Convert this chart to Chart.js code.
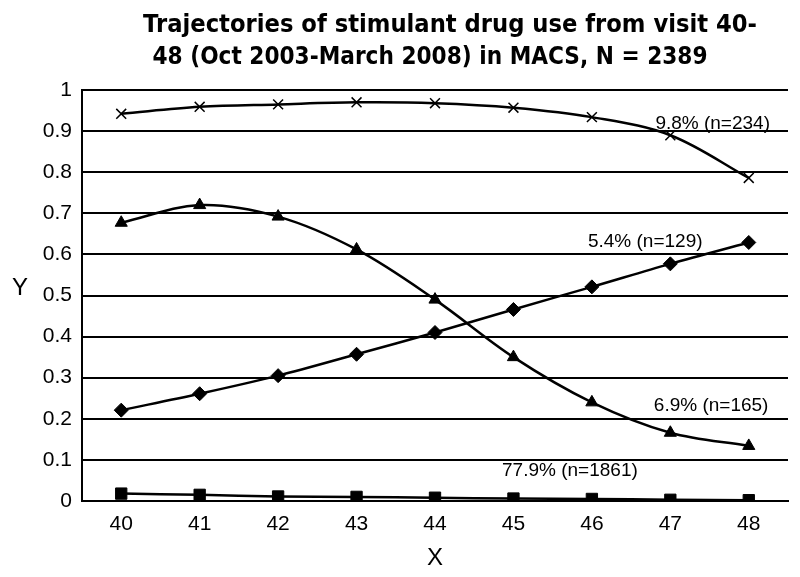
<!DOCTYPE html>
<html>
<head>
<meta charset="utf-8">
<title>Trajectories of stimulant drug use</title>
<script src="https://cdn.jsdelivr.net/npm/chart.js@4.4.1/dist/chart.umd.min.js"></script>
<style>
    html, body { margin: 0; padding: 0; background: #fff; }
    #wrap { width: 800px; height: 577px; }
</style>
</head>
<body>
<div id="wrap"><canvas id="trajectory-chart" width="800" height="577"></canvas></div>
<script>
// visits on the x axis
const visits = ['40', '41', '42', '43', '44', '45', '46', '47', '48'];
const yTickLabels = ['0', '0.1', '0.2', '0.3', '0.4', '0.5', '0.6', '0.7', '0.8', '0.9', '1'];

// trajectory groups
const highUse = [0.942, 0.959, 0.965, 0.970, 0.968, 0.957, 0.934, 0.890, 0.786];      // 9.8%
const decreasing = [0.677, 0.720, 0.692, 0.612, 0.490, 0.350, 0.240, 0.166, 0.134];  // 6.9%
const increasing = [0.221, 0.261, 0.305, 0.357, 0.410, 0.466, 0.521, 0.577, 0.629];  // 5.4%
const nonUse = [0.018, 0.015, 0.011, 0.010, 0.008, 0.006, 0.005, 0.003, 0.002];       // 77.9%

// group labels: [text, x position (visit index), y value]
const groupLabels = [
    ['9.8% (n=234)', 7.54, 0.917],
    ['5.4% (n=129)', 6.68, 0.63],
    ['6.9% (n=165)', 7.52, 0.231],
    ['77.9% (n=1861)', 5.72, 0.073]
];
const titleLines = ['Trajectories of stimulant drug use from visit 40-', '48 (Oct 2003-March 2008) in MACS, N = 2389'];

const fontFamily = '"Liberation Sans", Arial, sans-serif';

function makeSeries(label, data, style, radius) {
    return {
        label: label,
        data: data,
        borderColor: '#000',
        backgroundColor: '#000',
        borderWidth: 2.5,
        pointStyle: style,
        pointRadius: radius,
        pointBorderWidth: style === 'crossRot' ? 1.5 : 1,
        tension: 0.35,
        fill: false
    };
}

// draw a line of text stretched to a given width (the original title font is very wide)
function fillStretched(ctx, text, cx, cy, width) {
    const natural = ctx.measureText(text).width;
    ctx.save();
    ctx.translate(cx, cy);
    ctx.scale(width / natural, 1);
    ctx.fillText(text, 0, 0);
    ctx.restore();
}

const textPlugin = {
    id: 'textPlugin',
    afterDraw: function(chart) {
        const ctx = chart.ctx;
        const xs = chart.scales.x;
        const ys = chart.scales.y;
        ctx.save();
        ctx.fillStyle = '#000';
        ctx.textBaseline = 'middle';
        ctx.textAlign = 'center';

        ctx.font = 'bold 24px "DejaVu Sans", sans-serif';
        fillStretched(ctx, titleLines[0], 450, 26, 614);
        fillStretched(ctx, titleLines[1], 430, 58, 555);

        ctx.font = '24px ' + fontFamily;
        ctx.fillText('Y', 20, 288);

        ctx.font = '19px ' + fontFamily;
        groupLabels.forEach(function(g) {
            ctx.fillText(g[0], xs.getPixelForValue(g[1]), ys.getPixelForValue(g[2]));
        });
        ctx.restore();
    }
};

const ctx = document.getElementById('trajectory-chart').getContext('2d');
const chart = new Chart(ctx, {
    type: 'line',
    data: {
        labels: visits,
        datasets: [
            makeSeries('9.8% (n=234)', highUse, 'crossRot', 7),
            makeSeries('6.9% (n=165)', decreasing, 'triangle', 7),
            makeSeries('5.4% (n=129)', increasing, 'rectRot', 7),
            makeSeries('77.9% (n=1861)', nonUse, 'rect', 8)
        ]
    },
    options: {
        responsive: false,
        animation: false,
        layout: { padding: { top: 90, right: 12, left: 0, bottom: 0 } },
        plugins: {
            legend: { display: false },
            tooltip: { enabled: false }
        },
        scales: {
            x: {
                offset: true,
                grid: { display: false, drawTicks: false },
                border: { color: '#000', width: 2 },
                ticks: {
                    color: '#000',
                    padding: 11,
                    font: { family: fontFamily, size: 21 }
                },
                title: {
                    display: true,
                    text: 'X',
                    color: '#000',
                    padding: { top: 6 },
                    font: { family: fontFamily, size: 24 }
                },
                afterFit: function(scale) { scale.height = 76; }
            },
            y: {
                min: 0,
                max: 1,
                grid: { color: '#000', lineWidth: 2, drawTicks: false },
                border: { color: '#000', width: 2 },
                ticks: {
                    stepSize: 0.1,
                    color: '#000',
                    padding: 10,
                    font: { family: fontFamily, size: 21 },
                    callback: function(value, index) { return yTickLabels[index]; }
                },
                afterFit: function(scale) { scale.width = 82; }
            }
        }
    },
    plugins: [textPlugin]
});
</script>
</body>
</html>
